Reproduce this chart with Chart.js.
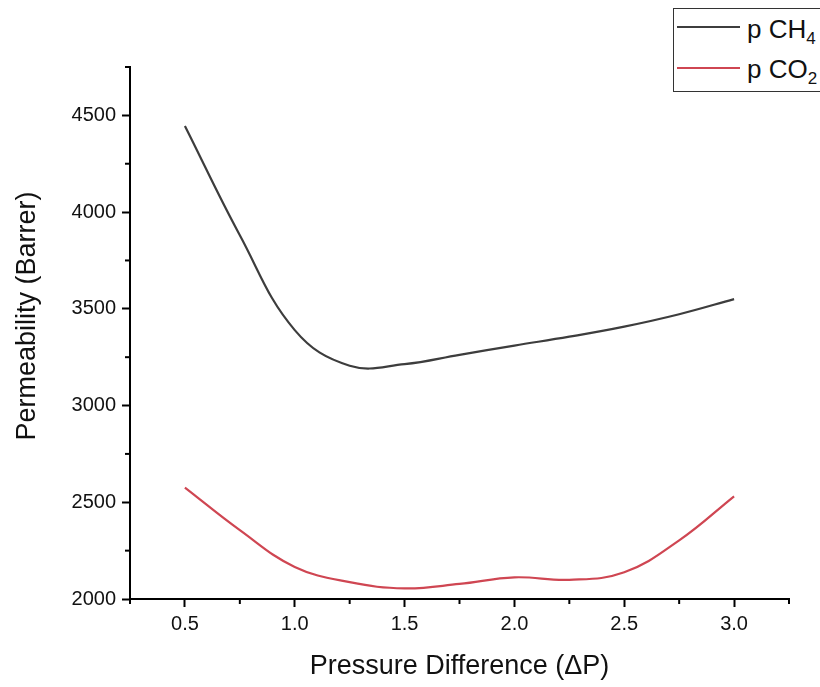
<!DOCTYPE html>
<html>
<head>
<meta charset="utf-8">
<script src="https://cdn.jsdelivr.net/npm/chart.js@4"></script>
<style>
  html, body { margin: 0; padding: 0; background: #fff; overflow: hidden; }
  #wrap { position: relative; width: 820px; height: 687px; overflow: hidden; }
  #legendBox {
    position: absolute; left: 673px; top: 8px; width: 170px; height: 82px;
    border: 1px solid #333; background: #fff;
    font-family: "Liberation Sans", Arial, sans-serif; font-size: 26px; color: #111;
  }
  #legendBox .ln { position: absolute; left: 3px; width: 63px; height: 2px; }
  #legendBox .tx { position: absolute; left: 73px; line-height: 26px; white-space: nowrap; }
  #legendBox sub { font-size: 17px; vertical-align: -6px; line-height: 0; }
</style>
</head>
<body>
<div id="wrap">
  <canvas id="permChart" width="820" height="687"></canvas>
  <div id="legendBox">
    <div class="ln" style="top:17px; background:#3d3d3d"></div>
    <div class="tx" style="top:7px">p CH<sub>4</sub></div>
    <div class="ln" style="top:58px; background:#cf4652"></div>
    <div class="tx" style="top:47px">p CO<sub>2</sub></div>
  </div>
</div>
<script>
// values
const pressure = [0.5, 0.75, 1.0, 1.25, 1.5, 1.75, 2.0, 2.25, 2.5, 2.75, 3.0];
const permCH4 = [4445, 3880, 3390, 3206, 3214, 3262, 3310, 3356, 3408, 3472, 3550];
const permCO2 = [2576, 2356, 2166, 2087, 2055, 2078, 2112, 2099, 2138, 2303, 2531];

const xLabels = [0.5, 1.0, 1.5, 2.0, 2.5, 3.0];
const yLabels = [2000, 2500, 3000, 3500, 4000, 4500];

const FONT = "'Liberation Sans', Arial, sans-serif";
const yTitle = "Permeability (Barrer)";

function toPoints(ys) {
  return pressure.map((x, i) => ({ x: x, y: ys[i] }));
}

function isMajorX(v) {
  return xLabels.some((m) => Math.abs(m - v) < 1e-6);
}
function isMajorY(v) {
  return yLabels.includes(v);
}

// short minor ticks + the y title (placed a bit above the axis middle, like the original)
const extras = {
  id: "extras",
  afterDraw(chart) {
    const ctx = chart.ctx;
    const xs = chart.scales.x;
    const ys = chart.scales.y;
    ctx.save();
    ctx.strokeStyle = "#000";
    ctx.lineWidth = 2;
    xs.ticks.forEach((t) => {
      if (isMajorX(t.value)) return;
      const px = xs.getPixelForValue(t.value);
      ctx.beginPath();
      ctx.moveTo(px, xs.top);
      ctx.lineTo(px, xs.top + 5);
      ctx.stroke();
    });
    ys.ticks.forEach((t) => {
      if (isMajorY(t.value)) return;
      const py = ys.getPixelForValue(t.value);
      ctx.beginPath();
      ctx.moveTo(ys.right, py);
      ctx.lineTo(ys.right - 5, py);
      ctx.stroke();
    });

    ctx.translate(28, (ys.top + ys.bottom) / 2 - 17);
    ctx.rotate(-Math.PI / 2);
    ctx.fillStyle = "#111";
    ctx.font = "27px " + FONT;
    ctx.textAlign = "center";
    ctx.textBaseline = "middle";
    ctx.fillText(yTitle, 0, 0);
    ctx.restore();
  },
};

const ctx = document.getElementById("permChart").getContext("2d");
new Chart(ctx, {
  type: "line",
  data: {
    datasets: [
      {
        label: "p CH4",
        data: toPoints(permCH4),
        borderColor: "#3d3d3d",
        borderWidth: 2.2,
        pointRadius: 0,
        tension: 0.4,
        fill: false,
      },
      {
        label: "p CO2",
        data: toPoints(permCO2),
        borderColor: "#cf4652",
        borderWidth: 2.2,
        pointRadius: 0,
        tension: 0.4,
        fill: false,
      },
    ],
  },
  options: {
    responsive: false,
    animation: false,
    layout: { padding: { left: 0, right: 31, top: 67, bottom: 0 } },
    plugins: { legend: { display: false }, tooltip: { enabled: false } },
    scales: {
      x: {
        type: "linear",
        min: 0.25,
        max: 3.25,
        afterFit: (s) => { s.height = 88; },
        afterBuildTicks: (s) => {
          const t = [];
          for (let i = 0; i <= 12; i++) t.push({ value: 0.25 + i * 0.25 });
          s.ticks = t;
        },
        grid: {
          drawOnChartArea: false,
          tickLength: 8,
          tickWidth: 2,
          tickColor: (c) => (c.tick && isMajorX(c.tick.value) ? "#000" : "rgba(0,0,0,0)"),
        },
        border: { display: true, color: "#000", width: 2 },
        ticks: {
          autoSkip: false,
          maxRotation: 0,
          padding: 5,
          color: "#111",
          font: { family: FONT, size: 20 },
          callback: (v) => (isMajorX(v) ? Number(v).toFixed(1) : ""),
        },
        title: {
          display: true,
          text: "Pressure Difference (\u0394P)",
          color: "#111",
          font: { family: FONT, size: 27 },
          padding: { top: 6, bottom: 4 },
        },
      },
      y: {
        min: 2000,
        max: 4750,
        afterFit: (s) => { s.width = 130; },
        afterBuildTicks: (s) => {
          const t = [];
          for (let v = 2000; v <= 4750; v += 250) t.push({ value: v });
          s.ticks = t;
        },
        grid: {
          drawOnChartArea: false,
          tickLength: 8,
          tickWidth: 2,
          tickColor: (c) => (c.tick && isMajorY(c.tick.value) ? "#000" : "rgba(0,0,0,0)"),
        },
        border: { display: true, color: "#000", width: 2 },
        ticks: {
          autoSkip: false,
          padding: 6,
          color: "#111",
          font: { family: FONT, size: 20 },
          callback: (v) => (isMajorY(v) ? String(v) : ""),
        },
      },
    },
  },
  plugins: [extras],
});
</script>
</body>
</html>
